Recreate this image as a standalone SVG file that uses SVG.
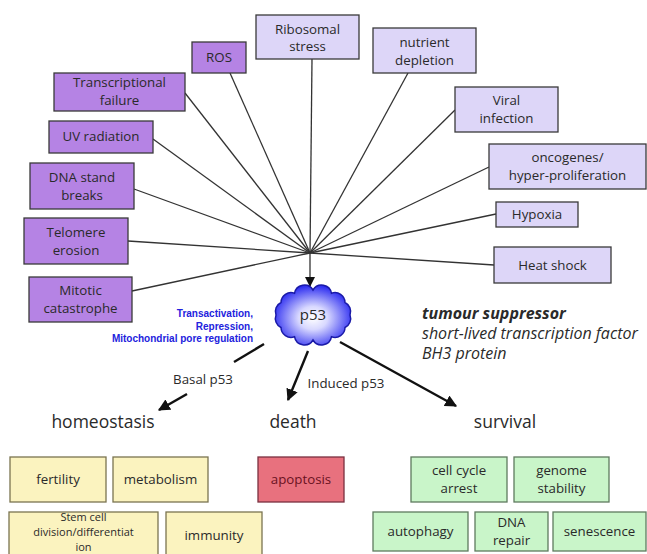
<svg xmlns="http://www.w3.org/2000/svg" width="647" height="554" viewBox="0 0 647 554">
<style>
.box{stroke:#3a3a3a;stroke-width:1.3}
.dp{fill:#b583e4}
.lp{fill:#ddd6f8}
.ye{fill:#fbf3bf;stroke:#7a7450}
.rd{fill:#e8717e;stroke:#7a3040}
.gr{fill:#c9f5c9;stroke:#5f7a5f}
text{font-family:"Open Sans","Liberation Sans",sans-serif;font-size:13.3px;fill:#2a2a2a;text-anchor:middle}
.rad{stroke:#333;stroke-width:1.3;fill:none}
.out{stroke:#111;stroke-width:2.4;fill:none}
.big{font-size:17.5px}
.blue{font-family:"Liberation Sans",Arial,sans-serif;font-weight:bold;font-size:10px;fill:#2222dd;text-anchor:end}
.it{font-style:italic;font-size:16px;text-anchor:start}
.sm{font-size:11px}
</style>
<defs>
<marker id="ah" markerWidth="10" markerHeight="10" viewBox="0 0 10 10" refX="9" refY="5" orient="auto" markerUnits="userSpaceOnUse">
<path d="M0,0 L10,5 L0,10 z" fill="#111"/>
</marker>
<marker id="ah2" markerWidth="12" markerHeight="12" viewBox="0 0 10 10" refX="9" refY="5" orient="auto" markerUnits="userSpaceOnUse">
<path d="M0,0 L10,5 L0,10 z" fill="#111"/>
</marker>
<radialGradient id="cg" cx="50%" cy="55%" r="55%">
<stop offset="0" stop-color="#ffffff"/>
<stop offset="0.35" stop-color="#d8d8ff"/>
<stop offset="1" stop-color="#2a2af0"/>
</radialGradient>
</defs>
<g id="connectors">
<line class="rad" x1="230" y1="73" x2="310" y2="253"/>
<line class="rad" x1="312" y1="59" x2="310" y2="253"/>
<line class="rad" x1="185" y1="93" x2="310" y2="253"/>
<line class="rad" x1="153" y1="139" x2="310" y2="253"/>
<line class="rad" x1="134" y1="189" x2="310" y2="253"/>
<line class="rad" x1="128" y1="241" x2="310" y2="253"/>
<line class="rad" x1="132" y1="291" x2="310" y2="253"/>
<line class="rad" x1="408" y1="73" x2="310" y2="253"/>
<line class="rad" x1="455" y1="110" x2="310" y2="253"/>
<line class="rad" x1="489" y1="167" x2="310" y2="253"/>
<line class="rad" x1="496" y1="214" x2="310" y2="253"/>
<line class="rad" x1="494" y1="265" x2="310" y2="253"/>
<line class="rad" x1="310" y1="253" x2="310" y2="286" marker-end="url(#ah)"/>
<line class="out" x1="264" y1="344" x2="234" y2="362"/>
<line class="out" x1="187" y1="394" x2="159" y2="410" marker-end="url(#ah2)"/>
<line class="out" x1="308" y1="351" x2="288" y2="400" marker-end="url(#ah2)"/>
<line class="out" x1="340" y1="342" x2="456" y2="406" marker-end="url(#ah2)"/>
</g>
<g id="ros"><rect class="box dp" x="192" y="42" width="54" height="31"/><text x="219" y="62">ROS</text></g>
<g id="ribosomal"><rect class="box lp" x="256" y="15" width="103" height="44"/><text x="307.5" y="34">Ribosomal</text><text x="307.5" y="51">stress</text></g>
<g id="transcriptional"><rect class="box dp" x="54" y="73" width="131" height="38"/><text x="119.5" y="87">Transcriptional</text><text x="119.5" y="105">failure</text></g>
<g id="uv"><rect class="box dp" x="49" y="121" width="104" height="32"/><text x="101" y="141">UV radiation</text></g>
<g id="dna-breaks"><rect class="box dp" x="30" y="163" width="104" height="46"/><text x="82" y="182">DNA stand</text><text x="82" y="200">breaks</text></g>
<g id="telomere"><rect class="box dp" x="24" y="218" width="104" height="46"/><text x="76" y="237">Telomere</text><text x="76" y="255">erosion</text></g>
<g id="mitotic"><rect class="box dp" x="29" y="277" width="103" height="45"/><text x="80.5" y="295">Mitotic</text><text x="80.5" y="313">catastrophe</text></g>
<g id="nutrient"><rect class="box lp" x="373" y="28" width="103" height="45"/><text x="424.5" y="47">nutrient</text><text x="424.5" y="65">depletion</text></g>
<g id="viral"><rect class="box lp" x="455" y="87" width="103" height="45"/><text x="506.5" y="105">Viral</text><text x="506.5" y="123">infection</text></g>
<g id="oncogenes"><rect class="box lp" x="489" y="144" width="157" height="45"/><text x="567.5" y="162">oncogenes/</text><text x="567.5" y="180">hyper-proliferation</text></g>
<g id="hypoxia"><rect class="box lp" x="496" y="202" width="82" height="25"/><text x="537" y="219">Hypoxia</text></g>
<g id="heatshock"><rect class="box lp" x="494" y="247" width="117" height="36"/><text x="552.5" y="270">Heat shock</text></g>
<g id="p53">
<path d="M350,315 A10,10 0 0 1 345,327.5 A10,10 0 0 1 331.5,336.7 A10,10 0 0 1 313,340 A10,10 0 0 1 294.5,336.7 A10,10 0 0 1 281,327.5 A10,10 0 0 1 276,315 A10,10 0 0 1 281,302.5 A10,10 0 0 1 294.5,293.3 A10,10 0 0 1 313,290 A10,10 0 0 1 331.5,293.3 A10,10 0 0 1 345,302.5 A10,10 0 0 1 350,315 z" fill="url(#cg)" stroke="#1a1aa8" stroke-width="1.5"/>
<text x="313" y="320" style="font-size:15px">p53</text>
</g>
<g id="functions">
<text class="blue" x="253" y="317">Transactivation,</text>
<text class="blue" x="253" y="330">Repression,</text>
<text class="blue" x="253" y="342">Mitochondrial pore regulation</text>
</g>
<g id="properties">
<text class="it" x="422" y="319" style="font-weight:bold">tumour suppressor</text>
<text class="it" x="422" y="339">short-lived transcription factor</text>
<text class="it" x="422" y="359">BH3 protein</text>
</g>
<text x="203" y="384">Basal p53</text>
<text x="346" y="388">Induced p53</text>
<g id="homeostasis"><text class="big" x="103" y="428">homeostasis</text></g>
<g id="death"><text class="big" x="293" y="428">death</text></g>
<g id="survival"><text class="big" x="505" y="428">survival</text></g>
<g id="fertility"><rect class="box ye" x="10" y="457" width="96" height="45"/><text x="58" y="484">fertility</text></g>
<g id="metabolism"><rect class="box ye" x="113" y="457" width="95" height="45"/><text x="160.5" y="484">metabolism</text></g>
<g id="stemcell"><rect class="box ye" x="9" y="512" width="149" height="50"/><text class="sm" x="83.5" y="521">Stem cell<tspan x="83.5" dy="15">division/differentiat</tspan><tspan x="83.5" dy="15">ion</tspan></text></g>
<g id="immunity"><rect class="box ye" x="166" y="512" width="96" height="50"/><text x="214" y="540">immunity</text></g>
<g id="apoptosis"><rect class="box rd" x="258" y="457" width="86" height="45"/><text x="301" y="484" style="fill:#6a1222">apoptosis</text></g>
<g id="cellcycle"><rect class="box gr" x="411" y="457" width="96" height="45"/><text x="459" y="475">cell cycle</text><text x="459" y="493">arrest</text></g>
<g id="genome"><rect class="box gr" x="514" y="457" width="95" height="45"/><text x="561.5" y="475">genome</text><text x="561.5" y="493">stability</text></g>
<g id="autophagy"><rect class="box gr" x="373" y="512" width="95" height="39"/><text x="420.5" y="536">autophagy</text></g>
<g id="dnarepair"><rect class="box gr" x="475" y="512" width="73" height="39"/><text x="511.5" y="527">DNA</text><text x="511.5" y="545">repair</text></g>
<g id="senescence"><rect class="box gr" x="553" y="512" width="93" height="39"/><text x="599.5" y="536">senescence</text></g>
</svg>
